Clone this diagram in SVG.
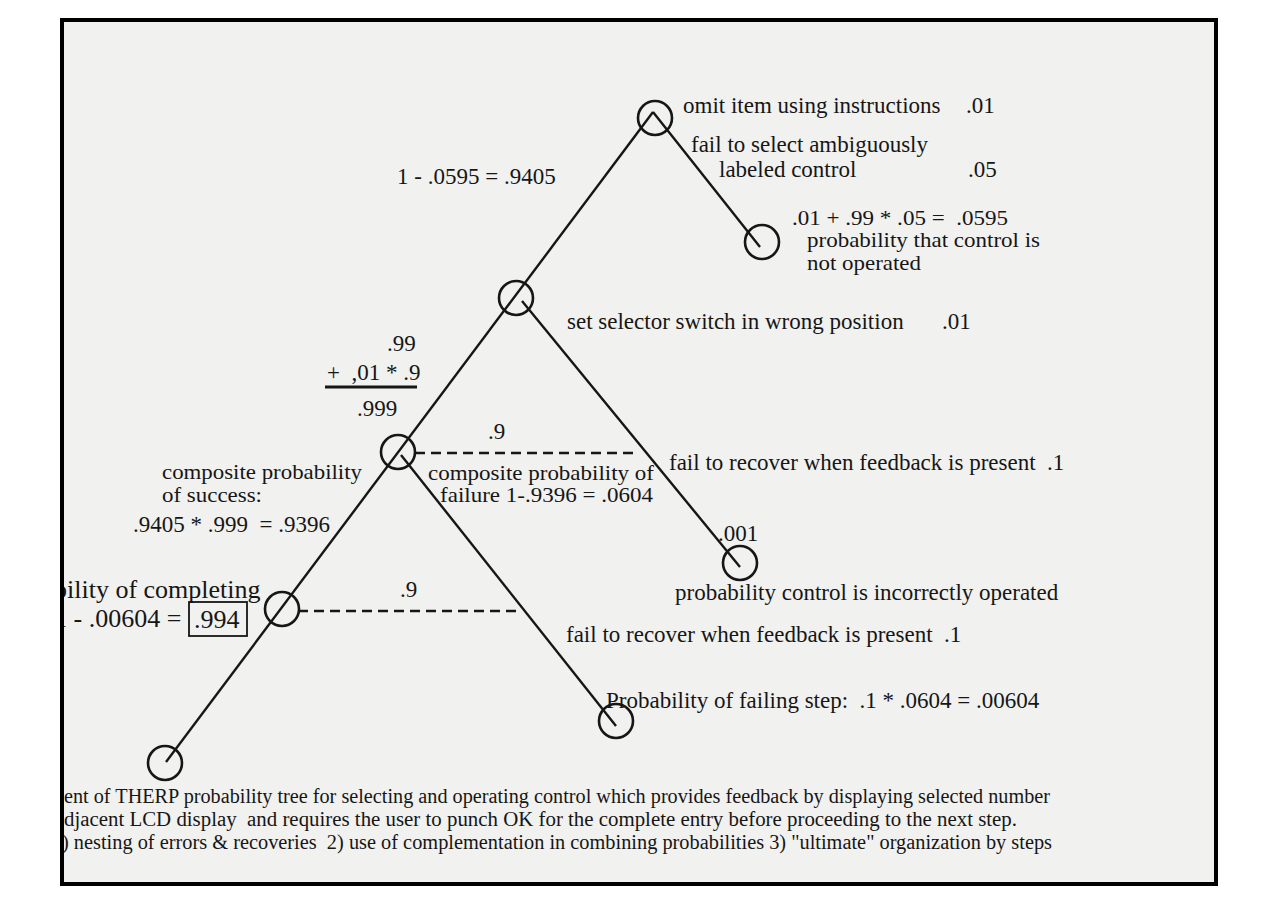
<svg xmlns="http://www.w3.org/2000/svg" width="1276" height="916" viewBox="0 0 1276 916">
<defs>
<style>
.t{font-family:"Liberation Serif","Times New Roman",serif;font-size:23px;fill:#161616}
.s{font-family:"Liberation Serif","Times New Roman",serif;font-size:21px;fill:#161616}
.b{font-family:"Liberation Serif","Times New Roman",serif;font-size:26px;fill:#161616}
.c{font-family:"Liberation Serif","Times New Roman",serif;font-size:20px;fill:#161616}
.n{fill:none;stroke:#161616;stroke-width:2.6}
.e{fill:none;stroke:#161616;stroke-width:2.4}
.d{fill:none;stroke:#161616;stroke-width:2.4;stroke-dasharray:10 6}
</style>
<clipPath id="inner"><rect x="64" y="22" width="1150" height="860"/></clipPath>
</defs>
<rect x="0" y="0" width="1276" height="916" fill="#ffffff"/>
<rect x="62" y="20" width="1154" height="864" fill="#f1f1ef" stroke="#000" stroke-width="4"/>
<g id="connectors">
<line class="e" x1="653" y1="112" x2="166" y2="762"/>
<line class="e" x1="653" y1="112" x2="760" y2="247"/>
<line class="e" x1="522" y1="301" x2="740" y2="567"/>
<line class="e" x1="401" y1="455" x2="616" y2="726"/>
<line class="d" x1="415" y1="453" x2="635" y2="453"/>
<line class="d" x1="298" y1="611" x2="520" y2="611"/>
</g>
<g id="node-omit"><circle class="n" cx="655" cy="118" r="17"/></g>
<g id="node-not-operated"><circle class="n" cx="762" cy="242" r="17"/></g>
<g id="node-selector"><circle class="n" cx="516" cy="298" r="17"/></g>
<g id="node-recover1"><circle class="n" cx="398" cy="452" r="17"/></g>
<g id="node-incorrect"><circle class="n" cx="740" cy="563" r="17"/></g>
<g id="node-recover2"><circle class="n" cx="282" cy="609" r="17"/></g>
<g id="node-failing"><circle class="n" cx="616" cy="721" r="17"/></g>
<g id="node-success"><circle class="n" cx="165" cy="763" r="17"/></g>
<g id="labels" clip-path="url(#inner)">
<text class="t" x="683" y="113">omit item using instructions</text>
<text class="t" x="966" y="113">.01</text>
<text class="t" x="691" y="152">fail to select ambiguously</text>
<text class="t" x="719" y="177">labeled control</text>
<text class="t" x="968" y="177">.05</text>
<text class="t" x="397" y="184">1 - .0595 = .9405</text>
<text class="s" x="792" y="225" textLength="216" lengthAdjust="spacingAndGlyphs" xml:space="preserve">.01 + .99 * .05 =  .0595</text>
<text class="s" x="807" y="247" textLength="233" lengthAdjust="spacingAndGlyphs">probability that control is</text>
<text class="s" x="807" y="270" textLength="114" lengthAdjust="spacingAndGlyphs">not operated</text>
<text class="t" x="567" y="329">set selector switch in wrong position</text>
<text class="t" x="942" y="329">.01</text>
<text class="t" x="387" y="351">.99</text>
<text class="t" x="327" y="380" xml:space="preserve">+  ,01 * .9</text>
<line x1="325" y1="387" x2="417" y2="387" stroke="#161616" stroke-width="2.8"/>
<text class="t" x="357" y="416">.999</text>
<text class="t" x="488" y="439">.9</text>
<text class="t" x="669" y="470" xml:space="preserve">fail to recover when feedback is present  .1</text>
<text class="s" x="162" y="479" textLength="200" lengthAdjust="spacingAndGlyphs">composite probability</text>
<text class="s" x="162" y="502" textLength="100" lengthAdjust="spacingAndGlyphs">of success:</text>
<text class="s" x="428" y="480" textLength="226" lengthAdjust="spacingAndGlyphs">composite probability of</text>
<text class="s" x="440" y="502" textLength="213" lengthAdjust="spacingAndGlyphs">failure 1-.9396 = .0604</text>
<text class="t" x="133" y="532" xml:space="preserve">.9405 * .999  = .9396</text>
<text class="t" x="718" y="541">.001</text>
<text class="b" x="54" y="598">bility of completing</text>
<text class="b" x="54" y="627">1 - .00604 =</text>
<rect x="189" y="602" width="58" height="34" fill="none" stroke="#161616" stroke-width="1.8"/>
<text class="b" x="194" y="628">.994</text>
<text class="t" x="400" y="597">.9</text>
<text class="t" x="675" y="600">probability control is incorrectly operated</text>
<text class="t" x="566" y="642" xml:space="preserve">fail to recover when feedback is present  .1</text>
<text class="t" x="606" y="708" xml:space="preserve">Probability of failing step:  .1 * .0604 = .00604</text>
<text class="c" x="64" y="803" textLength="986" lengthAdjust="spacingAndGlyphs">ent of THERP probability tree for selecting and operating control which provides feedback by displaying selected number</text>
<text class="c" x="64" y="826" textLength="953" lengthAdjust="spacingAndGlyphs" xml:space="preserve">djacent LCD display  and requires the user to punch OK for the complete entry before proceeding to the next step.</text>
<text class="c" x="62" y="849" textLength="990" lengthAdjust="spacingAndGlyphs" xml:space="preserve">) nesting of errors &amp; recoveries  2) use of complementation in combining probabilities 3) "ultimate" organization by steps</text>
</g>
</svg>
